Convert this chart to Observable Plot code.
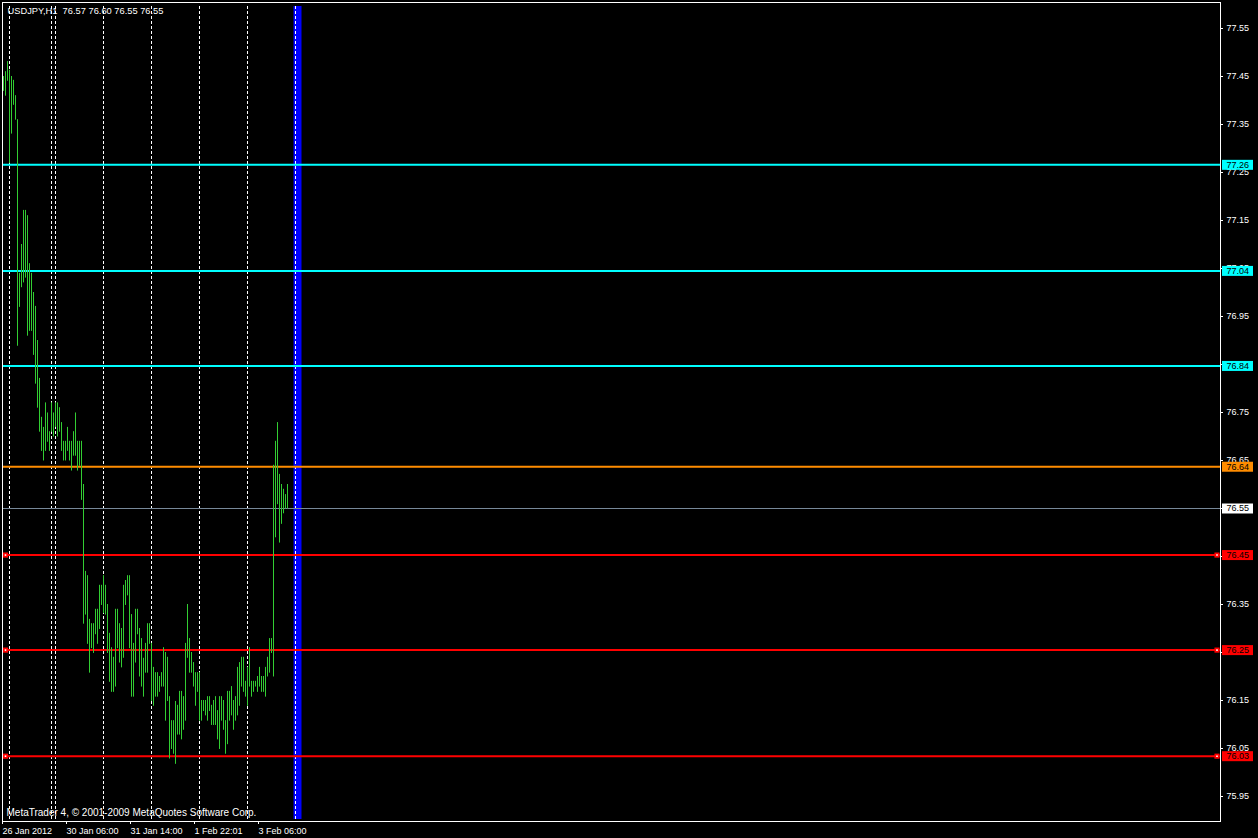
<!DOCTYPE html>
<html>
<head>
<meta charset="utf-8">
<script src="https://cdn.jsdelivr.net/npm/d3@7"></script>
<script src="https://cdn.jsdelivr.net/npm/@observablehq/plot@0.6"></script>
<style>
  html, body { margin: 0; padding: 0; background: #000; }
  #chart { width: 1258px; height: 838px; overflow: hidden; }
</style>
</head>
<body>
<div id="chart"></div>
<script>
// ---- Data ----
const symbolTitle = "USDJPY,H1  76.57 76.60 76.55 76.55";
const watermark = "MetaTrader 4, \u00A9 2001-2009 MetaQuotes Software Corp.";

// Hourly bars, oldest first (bar index = hours since 26 Jan 2012 start)
const highs = [77.450,77.460,77.481,77.463,77.450,77.442,77.410,77.360,77.040,77.100,
77.171,77.171,77.160,77.060,77.040,77.000,76.971,76.900,76.821,76.740,
76.719,76.770,76.749,76.710,76.770,76.749,76.770,76.770,76.760,76.729,
76.690,76.690,76.719,76.690,76.690,76.710,76.749,76.690,76.690,76.690,
76.600,76.419,76.410,76.319,76.310,76.310,76.340,76.340,76.390,76.390,
76.410,76.390,76.350,76.290,76.260,76.240,76.340,76.340,76.310,76.300,
76.390,76.400,76.410,76.410,76.329,76.269,76.340,76.340,76.300,76.279,
76.238,76.269,76.310,76.310,76.269,76.219,76.208,76.208,76.200,76.208,
76.260,76.250,76.240,76.158,76.108,76.108,76.148,76.140,76.169,76.169,
76.158,76.269,76.350,76.279,76.250,76.229,76.208,76.208,76.208,76.150,
76.150,76.150,76.158,76.158,76.140,76.150,76.158,76.129,76.158,76.158,
76.150,76.108,76.169,76.169,76.179,76.150,76.158,76.219,76.229,76.240,
76.240,76.190,76.219,76.260,76.190,76.190,76.190,76.200,76.219,76.200,
76.200,76.219,76.240,76.279,76.279,76.640,76.690,76.729,76.621,76.600,
76.590,76.579,76.600];
const lows = [77.419,77.409,77.440,77.269,77.330,77.390,77.359,76.888,76.969,77.010,
77.020,77.030,76.909,76.919,76.919,76.869,76.809,76.759,76.709,76.669,
76.649,76.669,76.688,76.669,76.709,76.699,76.719,76.699,76.709,76.669,
76.649,76.649,76.669,76.649,76.628,76.659,76.659,76.628,76.638,76.567,
76.309,76.328,76.267,76.207,76.258,76.248,76.287,76.267,76.298,76.348,
76.331,76.328,76.248,76.188,76.167,76.167,76.178,76.258,76.228,76.218,
76.238,76.348,76.368,76.258,76.157,76.157,76.228,76.287,76.199,76.178,
76.157,76.207,76.207,76.267,76.148,76.138,76.157,76.157,76.167,76.178,
76.178,76.107,76.148,76.028,76.048,76.038,76.017,76.078,76.078,76.068,
76.088,76.107,76.238,76.207,76.207,76.178,76.138,76.167,76.107,76.107,
76.127,76.118,76.107,76.127,76.098,76.098,76.098,76.068,76.048,76.107,
76.088,76.038,76.058,76.107,76.118,76.088,76.107,76.118,76.138,76.178,
76.167,76.157,76.138,76.178,76.157,76.167,76.178,76.167,76.178,76.167,
76.167,76.157,76.199,76.207,76.248,76.199,76.489,76.558,76.478,76.517,
76.539,76.549,76.549];

// Day separators (bar indexes) and the blue vertical line
const separators = [3, 24, 26, 50, 74, 98, 122, 146];
const blueLine = [147];

// Horizontal levels
const levelValues = [77.266, 77.045, 76.847, 76.637, 76.550, 76.453, 76.255, 76.034];
const levelLabels = ["77.26", "77.04", "76.84", "76.64", "76.55", "76.45", "76.25", "76.03"];
const levelColors = ["#00ffff", "#00ffff", "#00ffff", "#ff8c00", "#778899", "#ff0000", "#ff0000", "#ff0000"];
const levelBoxColors = ["#00ffff", "#00ffff", "#00ffff", "#ff8c00", "#ffffff", "#ff0000", "#ff0000", "#ff0000"];
const levelWidths = [2, 2, 2, 2, 1, 2, 2, 2];
const levelSelected = [false, false, false, false, false, true, true, true];

// Axis ticks
const yTicks = [75.95, 76.05, 76.15, 76.25, 76.35, 76.45, 76.55, 76.65, 76.75, 76.85, 76.95, 77.05, 77.15, 77.25, 77.35, 77.45, 77.55];
const xTicks = [0, 32, 64, 96, 128];
const xTickLabels = ["26 Jan 2012", "30 Jan 06:00", "31 Jan 14:00", "1 Feb 22:01", "3 Feb 06:00"];

// ---- Build tables ----
const bars = highs.map((h, i) => ({i, high: h, low: lows[i]}));
const levels = levelValues.map((v, k) => ({
  v, label: levelLabels[k], color: levelColors[k], box: levelBoxColors[k],
  w: levelWidths[k], selected: levelSelected[k]
}));
const selectedLevels = levels.filter(d => d.selected);

const font = "'Liberation Sans', Arial, sans-serif";

const chart = Plot.plot({
  width: 1258,
  height: 838,
  marginTop: 2,
  marginBottom: 17,
  marginLeft: 2,
  marginRight: 38,
  style: {background: "#000", color: "#fff", fontFamily: font, fontSize: "9px", overflow: "visible"},
  x: {type: "linear", domain: [-0.5, 608.5], axis: null, label: null},
  y: {type: "linear", domain: [75.89792, 77.60417], axis: null, label: null},
  marks: [
    // blue vertical line
    Plot.ruleX(blueLine, {x: d => d, stroke: "#0000ff", strokeWidth: 8, insetTop: 4, insetBottom: 2}),
    // day separators
    Plot.ruleX(separators, {x: d => d, stroke: "#ffffff", strokeWidth: 1, strokeDasharray: "3,2", insetTop: 4, insetBottom: 2}),
    // level lines
    ...levels.map(d => Plot.ruleY([d.v], {stroke: d.color, strokeWidth: d.w, insetLeft: 1})),
    // price bars
    Plot.ruleX(bars, {x: "i", y1: "low", y2: "high", stroke: "#32cd32", strokeWidth: 1}),
    // selection markers on red levels
    Plot.dot(selectedLevels, {y: "v", frameAnchor: "left", dx: 3, symbol: "square", r: 2.9, fill: "#ff0000"}),
    Plot.dot(selectedLevels, {y: "v", frameAnchor: "left", dx: 3, symbol: "square", r: 0.9, fill: "#ffffff"}),
    Plot.dot(selectedLevels, {y: "v", frameAnchor: "right", dx: -3.5, symbol: "square", r: 2.9, fill: "#ff0000"}),
    Plot.dot(selectedLevels, {y: "v", frameAnchor: "right", dx: -3.5, symbol: "square", r: 0.9, fill: "#ffffff"}),
    // frame
    Plot.frame({stroke: "#ffffff"}),
    // axes
    Plot.axisY({anchor: "right", ticks: yTicks, tickSize: 2, tickPadding: 4, tickFormat: d => d.toFixed(2), color: "#ffffff", fontSize: 9, label: null}),
    Plot.axisX({anchor: "bottom", ticks: xTicks, tickSize: 3, tickPadding: 3, textAnchor: "start", dx: -1,
      tickFormat: d => xTickLabels[xTicks.indexOf(d)], color: "#ffffff", fontSize: 9, label: null}),
    // level price boxes
    ...levels.map(d => Plot.ruleY([d.v], {stroke: d.box, strokeWidth: 10, insetLeft: 1220, insetRight: -33})),
    Plot.text(levels, {y: "v", text: "label", frameAnchor: "right", dx: 6, textAnchor: "start", fill: "#000000", fontSize: 9}),
    // title and watermark
    Plot.text([symbolTitle], {frameAnchor: "top-left", dx: 5, dy: 5, lineAnchor: "top", textAnchor: "start", fill: "#ffffff", fontSize: 9.3}),
    Plot.text([watermark], {frameAnchor: "bottom-left", dx: 4, dy: -13, lineAnchor: "top", textAnchor: "start", fill: "#ffffff", fontSize: 10})
  ]
});
document.getElementById("chart").appendChild(chart);
</script>
</body>
</html>
